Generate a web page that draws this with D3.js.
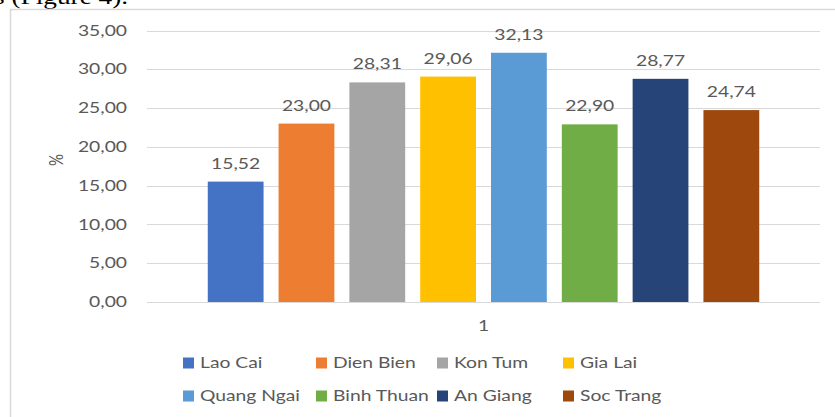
<!DOCTYPE html>
<html>
<head>
<meta charset="utf-8">
<script src="https://cdn.jsdelivr.net/npm/d3@7"></script>
<style>
  html, body { margin: 0; padding: 0; background: #fff; }
  svg { display: block; }
</style>
</head>
<body>
<svg id="chart" width="835" height="417"></svg>
<script>
// ---- data ----
const groups = ["1"];
const categories = ["Lao Cai", "Dien Bien", "Kon Tum", "Gia Lai", "Quang Ngai", "Binh Thuan", "An Giang", "Soc Trang"];
const values = [15.52, 23.00, 28.31, 29.06, 32.13, 22.90, 28.77, 24.74];
const colors = ["#4472C4", "#ED7D31", "#A5A5A5", "#FFC000", "#5B9BD5", "#70AD47", "#264478", "#9E480E"];
const yTicks = [0, 5, 10, 15, 20, 25, 30, 35];
const yLabel = "%";
const caption = "s (Figure 4).";

// ---- layout ----
const SX = 1.33;               // horizontal stretch of the source image
const FONT = "Lato, 'Open Sans', sans-serif";
const FS = 14.5;
const TXT = "#595959";
const plot = { left: 147, right: 820, top: 30.5, bottom: 302 };

const svg = d3.select("#chart");
const fmt = v => v.toFixed(2).replace(".", ",");

// stretched text helper
function stext(g, x, y, str, anchor, opts = {}) {
  const t = g.append("text")
    .attr("transform", `translate(${x},${y}) scale(${opts.sx || SX},1)` + (opts.rot ? ` rotate(${opts.rot})` : ""))
    .attr("text-anchor", anchor || "start")
    .attr("font-family", opts.font || FONT)
    .attr("font-size", opts.size || FS)
    .attr("fill", opts.fill || TXT)
    .text(str);
  if (opts.dy) t.attr("dy", opts.dy);
  return t;
}

// caption fragment at top (cut off in the source)
stext(svg, -6, 4, caption, "start", { font: "'Liberation Serif', 'Times New Roman', serif", size: 21, fill: "#000", sx: 1.3 });

// frame
svg.append("path")
  .attr("d", "M10.5,417 V9.5 H835")
  .attr("fill", "none")
  .attr("stroke", "#d9d9d9")
  .attr("stroke-width", 1.5);

// scales
const y = d3.scaleLinear().domain([0, 35]).range([plot.bottom, plot.top]);
const x0 = d3.scaleBand().domain(groups).range([plot.left, plot.right]).paddingOuter(0.094).paddingInner(0);
const x1 = d3.scaleBand().domain(categories).range([0, x0.bandwidth()]).paddingInner(0.212).paddingOuter(0.106);

// gridlines
const grid = svg.append("g");
grid.selectAll("line").data(yTicks).join("line")
  .attr("x1", plot.left).attr("x2", plot.right)
  .attr("y1", d => Math.round(y(d)) + 0.5).attr("y2", d => Math.round(y(d)) + 0.5)
  .attr("stroke", "#d9d9d9").attr("stroke-width", 1.2);

// y tick labels
const yAxisG = svg.append("g");
yTicks.forEach(t => stext(yAxisG, 127, y(t), fmt(t), "end", { dy: "0.35em" }));

// y axis title
stext(svg, 56, 160, yLabel, "middle", { rot: -90, dy: "0.35em", size: 15 });

// bars
const gx = x0(groups[0]);
const bars = svg.append("g").attr("transform", `translate(${gx},0)`);
bars.selectAll("rect").data(values).join("rect")
  .attr("x", (d, i) => x1(categories[i]))
  .attr("width", x1.bandwidth())
  .attr("y", d => y(d))
  .attr("height", d => y(0) - y(d))
  .attr("fill", (d, i) => colors[i]);

// data labels
values.forEach((v, i) => {
  stext(bars, x1(categories[i]) + x1.bandwidth() / 2, y(v) - 13, fmt(v), "middle");
});

// category label
stext(svg, gx + x0.bandwidth() / 2, 331, groups[0], "middle");

// legend
const legCols = [183, 316, 437, 563];
const legRows = [363, 396];
const leg = svg.append("g");
categories.forEach((c, i) => {
  const cx = legCols[i % 4], cy = legRows[Math.floor(i / 4)];
  leg.append("rect").attr("x", cx).attr("y", cy - 5.5).attr("width", 11).attr("height", 11).attr("fill", colors[i]);
  stext(leg, cx + 17, cy, c, "start", { dy: "0.36em" });
});
</script>
</body>
</html>
